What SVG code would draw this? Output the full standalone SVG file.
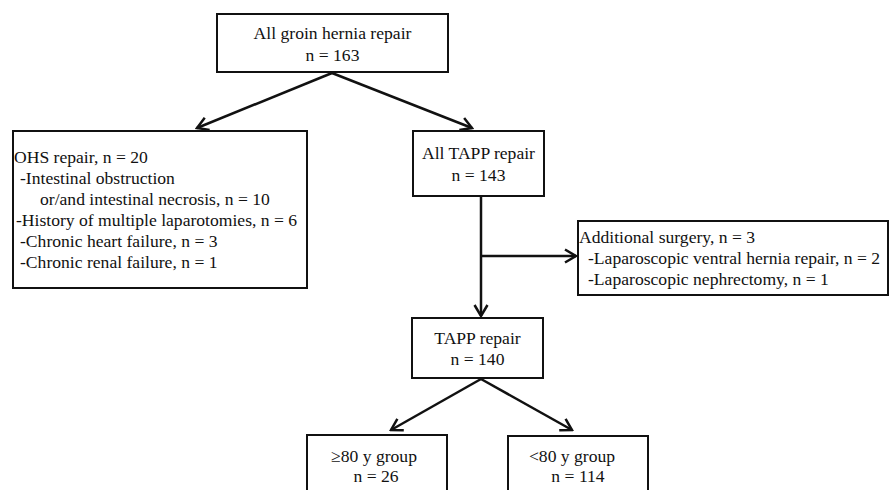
<svg xmlns="http://www.w3.org/2000/svg" width="891" height="490" viewBox="0 0 891 490">
<defs>
<style>
.box{fill:#fff;stroke:#111;stroke-width:2}
.t{font-family:"Liberation Serif","Times New Roman",serif;font-size:17.6px;fill:#111}
.c{text-anchor:middle}
.ln{fill:none;stroke:#111;stroke-width:2.5}
</style>
<marker id="ah" viewBox="-13 -8 15 16" refX="0" refY="0" markerWidth="15" markerHeight="16" markerUnits="userSpaceOnUse" orient="auto">
<path d="M-11,-6.5 L0,0 L-11,6.5" fill="none" stroke="#111" stroke-width="2.5"/>
</marker>
</defs>
<rect width="891" height="490" fill="#fff"/>
<g id="connectors">
<line class="ln" x1="332" y1="73" x2="197" y2="128" marker-end="url(#ah)"/>
<line class="ln" x1="332" y1="73" x2="472" y2="128" marker-end="url(#ah)"/>
<line class="ln" x1="481" y1="196" x2="481" y2="316" marker-end="url(#ah)"/>
<line class="ln" x1="482" y1="256" x2="576" y2="256" marker-end="url(#ah)"/>
<line class="ln" x1="481" y1="379" x2="391" y2="430" marker-end="url(#ah)"/>
<line class="ln" x1="481" y1="379" x2="572" y2="430" marker-end="url(#ah)"/>
</g>
<g id="all-groin">
<rect class="box" x="217" y="14" width="231" height="58"/>
<text class="t c" x="332.5" y="39">All groin hernia repair</text>
<text class="t c" x="332.5" y="61">n = 163</text>
</g>
<g id="ohs">
<rect class="box" x="13" y="131" width="294" height="157"/>
<text class="t" x="14" y="163">OHS repair, n = 20</text>
<text class="t" x="20" y="184">-Intestinal obstruction</text>
<text class="t" x="40" y="205">or/and intestinal necrosis, n = 10</text>
<text class="t" x="16" y="226">-History of multiple laparotomies, n = 6</text>
<text class="t" x="20" y="247">-Chronic heart failure, n = 3</text>
<text class="t" x="20" y="268">-Chronic renal failure, n = 1</text>
</g>
<g id="all-tapp">
<rect class="box" x="413" y="131" width="131" height="65"/>
<text class="t c" x="478.5" y="159">All TAPP repair</text>
<text class="t c" x="478.5" y="181">n = 143</text>
</g>
<g id="additional">
<rect class="box" x="578" y="221" width="310" height="74"/>
<text class="t" x="579" y="243">Additional surgery, n = 3</text>
<text class="t" x="588" y="264">-Laparoscopic ventral hernia repair, n = 2</text>
<text class="t" x="588" y="285">-Laparoscopic nephrectomy, n = 1</text>
</g>
<g id="tapp">
<rect class="box" x="412" y="318" width="131" height="60"/>
<text class="t c" x="477.5" y="344">TAPP repair</text>
<text class="t c" x="477.5" y="365">n = 140</text>
</g>
<g id="ge80">
<rect class="box" x="307" y="435" width="140" height="70"/>
<text class="t c" x="374" y="462">≥80 y group</text>
<text class="t c" x="376" y="482">n = 26</text>
</g>
<g id="lt80">
<rect class="box" x="508" y="436" width="140" height="70"/>
<text class="t c" x="572" y="462">&lt;80 y group</text>
<text class="t c" x="578" y="482">n = 114</text>
</g>
</svg>
